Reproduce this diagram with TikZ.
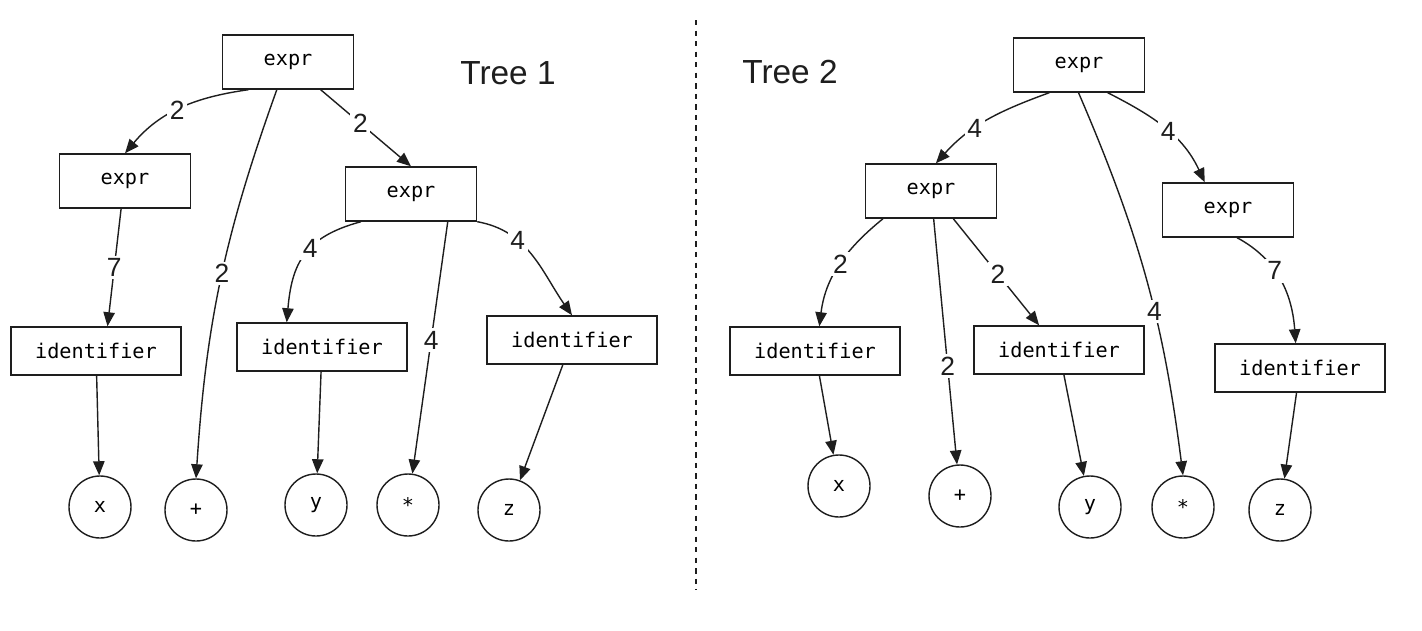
\documentclass[tikz,border=0pt]{standalone}
\usepackage{fontspec}
\setmainfont{Liberation Sans}
\setmonofont{DejaVu Sans Mono}
\usetikzlibrary{arrows.meta}
\definecolor{inkblack}{RGB}{30, 30, 30}

\begin{document}
\begin{tikzpicture}[
    exprbox/.style={draw=inkblack, line width=0.8pt, minimum width=2.62cm, minimum height=1.08cm, font=\ttfamily\fontsize{11.5}{13}\selectfont},
    identbox/.style={exprbox, minimum width=3.4cm, minimum height=0.96cm},
    leaf/.style={circle, draw=inkblack, line width=0.8pt, minimum size=1.24cm, font=\ttfamily\fontsize{11.5}{13}\selectfont},
    edge/.style={draw=inkblack, line width=0.8pt, -{Triangle[length=8pt, width=6.5pt]}},
    num/.style={fill=white, inner sep=1.5pt, text=inkblack, font=\fontsize{15}{18}\selectfont},
    title/.style={text=inkblack, font=\fontsize{19}{22}\selectfont}
  ]
  \useasboundingbox (0,0) rectangle (28.44,12.6);
  % tree 1
  \node[exprbox] (r1) at (5.76,11.36) {expr};
  \node[exprbox] (a1) at (2.5,8.98) {expr};
  \node[exprbox] (b1) at (8.22,8.72) {expr};
  \node[identbox] (ix1) at (1.92,5.58) {identifier};
  \node[identbox] (iy1) at (6.44,5.66) {identifier};
  \node[identbox] (iz1) at (11.44,5.8) {identifier};
  \node[leaf] (x1) at (2.0,2.46) {x};
  \node[leaf] (p1) at (3.92,2.4) {+};
  \node[leaf] (y1) at (6.32,2.5) {y};
  \node[leaf] (s1) at (8.16,2.5) {*};
  \node[leaf] (z1) at (10.18,2.4) {z};
  \node[title] (t1) at (10.16,11.14) {Tree 1};

  \draw[edge] (r1.-145) to[out=-172, in=50] node[num, pos=0.52] {2} (a1.north);
  \draw[edge] (r1.-112) to[bend right=8] node[num, pos=0.48] {2} (p1.north);
  \draw[edge] (r1) -- node[num, pos=0.44] {2} (b1.north);
  \draw[edge] (a1.-98) -- node[num, pos=0.5] {7} (ix1.65);
  \draw[edge] (ix1) -- (x1);
  \draw[edge] (b1.-151) to[out=195, in=85, looseness=1.2] node[num, pos=0.42] {4} (iy1.145);
  \draw[edge] (b1.-37) -- node[num, pos=0.47] {4} (s1);
  \draw[edge] (b1.south east) to[out=-10, in=125] node[num, pos=0.33] {4} (iz1.north);
  \draw[edge] (iy1) -- (y1);
  \draw[edge] (iz1) -- (z1);

  % divider
  \draw[inkblack, line width=0.8pt, dashed] (13.92,12.2) -- (13.92,0.8);

  % tree 2
  \node[exprbox] (r2) at (21.58,11.3) {expr};
  \node[exprbox] (a2) at (18.62,8.78) {expr};
  \node[exprbox] (b2) at (24.56,8.4) {expr};
  \node[identbox] (ix2) at (16.3,5.58) {identifier};
  \node[identbox] (iy2) at (21.18,5.6) {identifier};
  \node[identbox] (iz2) at (26.0,5.24) {identifier};
  \node[leaf] (x2) at (16.78,2.88) {x};
  \node[leaf] (p2) at (19.2,2.68) {+};
  \node[leaf] (y2) at (21.8,2.46) {y};
  \node[leaf] (s2) at (23.66,2.46) {*};
  \node[leaf] (z2) at (25.6,2.4) {z};
  \node[title] (t2) at (15.8,11.16) {Tree 2};

  \draw[edge] (r2.-137) to[out=-160, in=48] node[num, pos=0.62] {4} (a2.80);
  \draw[edge] (r2.-91) to[bend left=8] node[num, pos=0.59] {4} (s2.north);
  \draw[edge] (r2.-44) to[out=-27, in=115] node[num, pos=0.53] {4} (b2.130);
  \draw[edge] (a2.-150) to[out=-141, in=83] node[num, pos=0.48] {2} (ix2.80);
  \draw[edge] (a2) -- node[num, pos=0.6] {2} (p2);
  \draw[edge] (a2) -- node[num, pos=0.52] {2} (iy2);
  \draw[edge] (b2.-72) to[out=-28, in=94] node[num, pos=0.4] {7} (iz2.100);
  \draw[edge] (ix2) -- (x2);
  \draw[edge] (iy2) -- (y2);
  \draw[edge] (iz2) -- (z2);
\end{tikzpicture}
\end{document}
